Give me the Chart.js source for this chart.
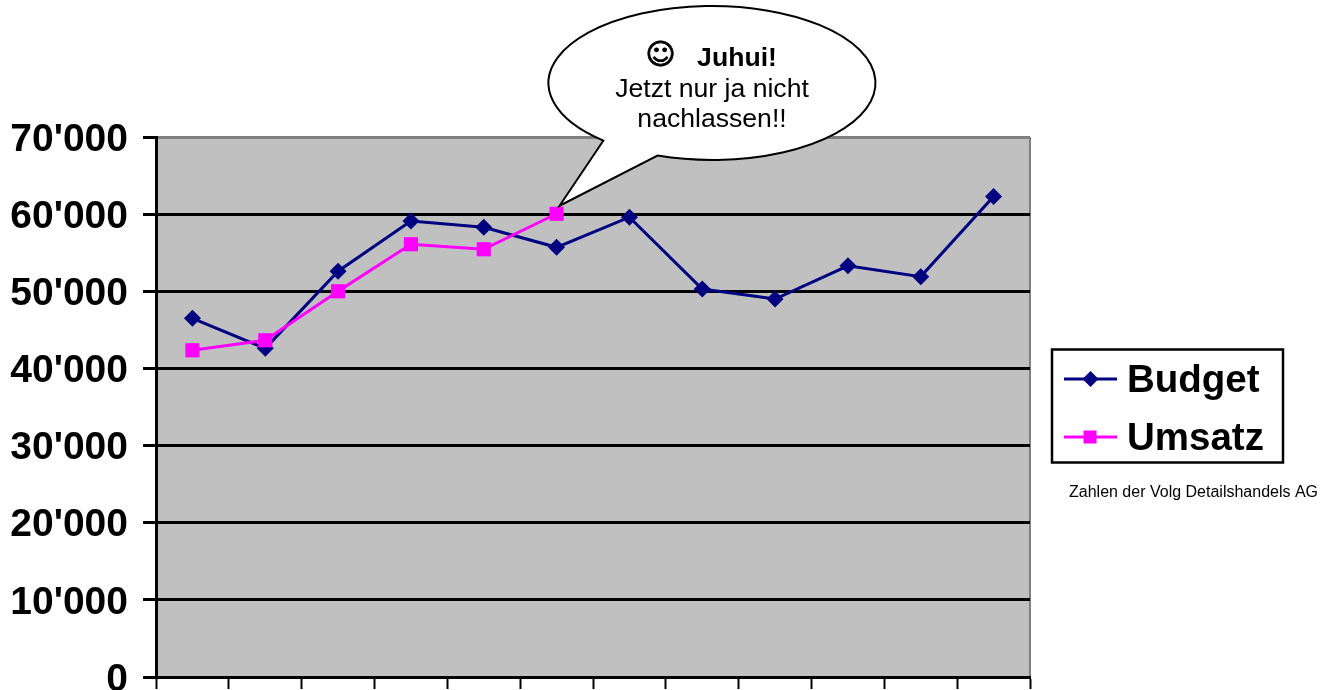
<!DOCTYPE html>
<html lang="de">
<head>
<meta charset="utf-8">
<title>Budget und Umsatz</title>
<script src="https://cdn.jsdelivr.net/npm/chart.js@4/dist/chart.umd.min.js"></script>
<style>
  html, body { margin: 0; padding: 0; background: #fff; }
  #wrap { width: 1334px; height: 690px; }
</style>
</head>
<body>
<div id="wrap"><canvas id="chart" width="1334" height="690"></canvas></div>
<script>
// Monatswerte, Achsenbeschriftung bleibt leer
const months = ['', '', '', '', '', '', '', '', '', '', '', ''];
const budget = [46500, 42600, 52600, 59100, 58300, 55700, 59600, 50300, 49000, 53300, 51900, 62300];
const umsatz = [42350, 43650, 50000, 56100, 55450, 60050];
const yTicks = ['0', "10'000", "20'000", "30'000", "40'000", "50'000", "60'000", "70'000"];

const NAVY = '#000080';
const PINK = '#ff00ff';
const FONT = '"Liberation Sans", Arial, sans-serif';

// Grauer Hintergrund und Rahmen rechts der Plotflaeche
const plotBackground = {
  id: 'plotBackground',
  beforeDraw(chart) {
    const { ctx, chartArea: a } = chart;
    ctx.save();
    ctx.fillStyle = '#c0c0c0';
    ctx.fillRect(a.left, a.top, a.right - a.left, a.bottom - a.top);
    ctx.strokeStyle = '#808080';
    ctx.lineWidth = 2;
    ctx.beginPath();
    ctx.moveTo(a.right, a.top);
    ctx.lineTo(a.right, a.bottom);
    ctx.stroke();
    ctx.restore();
  },
};

// Sprechblase, die Spitze zeigt auf den letzten Umsatz-Punkt
const callout = {
  id: 'callout',
  afterDatasetsDraw(chart) {
    const { ctx, scales } = chart;
    const i = umsatz.length - 1;
    const tipX = scales.x.getPixelForValue(i) + 3;
    const tipY = scales.y.getPixelForValue(umsatz[i]) - 8;

    ctx.save();
    ctx.beginPath();
    // Ellipse von der rechten Ansatzstelle gegen den Uhrzeigersinn bis zur linken
    ctx.ellipse(712, 83, 163.5, 77, 0, Math.atan2(72 / 77, -54 / 163.5), Math.atan2(57 / 77, -107.5 / 163.5), true);
    ctx.lineTo(tipX, tipY);
    ctx.closePath();
    ctx.fillStyle = '#fff';
    ctx.strokeStyle = '#000';
    ctx.lineWidth = 2;
    ctx.fill();
    ctx.stroke();

    ctx.fillStyle = '#000';
    ctx.textAlign = 'center';
    ctx.textBaseline = 'alphabetic';
    ctx.font = 'bold 29px "DejaVu Sans"';
    ctx.lineWidth = 0.8;
    ctx.fillText('\u263A', 660.5, 64);
    ctx.strokeText('\u263A', 660.5, 64);
    ctx.font = 'bold 26.6px ' + FONT;
    ctx.fillText('Juhui!', 737, 66);
    ctx.font = '26.6px ' + FONT;
    ctx.fillText('Jetzt nur ja nicht', 712, 97);
    ctx.fillText('nachlassen!!', 712, 127);
    ctx.restore();
  },
};

// Legende im Kasten rechts, darunter die Quellenangabe
const sideLegend = {
  id: 'sideLegend',
  afterDraw(chart) {
    const { ctx } = chart;
    ctx.save();
    ctx.fillStyle = '#fff';
    ctx.strokeStyle = '#000';
    ctx.lineWidth = 2.5;
    ctx.fillRect(1052, 349.5, 231, 113);
    ctx.strokeRect(1052, 349.5, 231, 113);

    const rows = [{ ds: 0, y: 379 }, { ds: 1, y: 437 }];
    rows.forEach(({ ds, y }) => {
      const d = chart.data.datasets[ds];
      ctx.strokeStyle = d.borderColor;
      ctx.lineWidth = 3;
      ctx.beginPath();
      ctx.moveTo(1064, y);
      ctx.lineTo(1117, y);
      ctx.stroke();
      ctx.fillStyle = d.backgroundColor;
      ctx.beginPath();
      if (d.pointStyle === 'rectRot') {
        ctx.moveTo(1090.5 - 8, y);
        ctx.lineTo(1090.5, y - 8);
        ctx.lineTo(1090.5 + 8, y);
        ctx.lineTo(1090.5, y + 8);
        ctx.closePath();
      } else {
        ctx.rect(1083.5, y - 6.5, 13, 13);
      }
      ctx.fill();
      ctx.fillStyle = '#000';
      ctx.font = 'bold 38.5px ' + FONT;
      ctx.textAlign = 'left';
      ctx.textBaseline = 'alphabetic';
      ctx.fillText(d.label, 1127, y + 13);
    });

    ctx.font = '16px ' + FONT;
    ctx.fillStyle = '#000';
    ctx.fillText('Zahlen der Volg Detailshandels AG', 1069, 497);
    ctx.restore();
  },
};

new Chart(document.getElementById('chart'), {
  type: 'line',
  data: {
    labels: months,
    datasets: [
      {
        label: 'Budget',
        data: budget,
        borderColor: NAVY,
        backgroundColor: NAVY,
        borderWidth: 3,
        pointStyle: 'rectRot',
        pointRadius: 8.5,
        pointBorderWidth: 0,
        tension: 0,
        order: 2,
      },
      {
        label: 'Umsatz',
        data: umsatz,
        borderColor: PINK,
        backgroundColor: PINK,
        borderWidth: 3,
        pointStyle: 'rect',
        pointRadius: 10,
        pointBorderWidth: 0,
        tension: 0,
        order: 1,
      },
    ],
  },
  plugins: [plotBackground, callout, sideLegend],
  options: {
    responsive: false,
    animation: false,
    layout: { padding: { left: 0, top: 137, right: 304, bottom: 1 } },
    plugins: { legend: { display: false }, tooltip: { enabled: false } },
    scales: {
      x: {
        type: 'category',
        offset: true,
        afterFit: (s) => { s.height = 12; },
        border: { color: '#000', width: 3 },
        grid: {
          offset: true,
          drawOnChartArea: false,
          drawTicks: true,
          tickLength: 12,
          tickWidth: 2,
          tickColor: '#000',
        },
        ticks: { autoSkip: false, display: false },
      },
      y: {
        min: 0,
        max: 70000,
        // Achsenbreite fest, ueberstehende Beschriftung soll die Plotflaeche nicht verkleinern
        afterFit: (s) => {
          s.width = 156;
          s.paddingTop = 0;
          s.paddingBottom = 0;
        },
        border: { color: '#000', width: 3 },
        grid: {
          color: (c) => (c.tick && c.tick.value === 70000 ? '#808080' : '#000'),
          lineWidth: 3,
          tickColor: '#000',
          tickLength: 13,
          tickWidth: 3,
        },
        ticks: {
          stepSize: 10000,
          padding: 15,
          color: '#000',
          // leere erste Zeile mit kleiner Zeilenhoehe: Text sitzt 3px unter der Gitterlinie
          font: { family: FONT, size: 39, weight: 'bold', lineHeight: '6px' },
          callback: (v) => ['', yTicks[v / 10000]],
        },
      },
    },
  },
});
</script>
</body>
</html>
